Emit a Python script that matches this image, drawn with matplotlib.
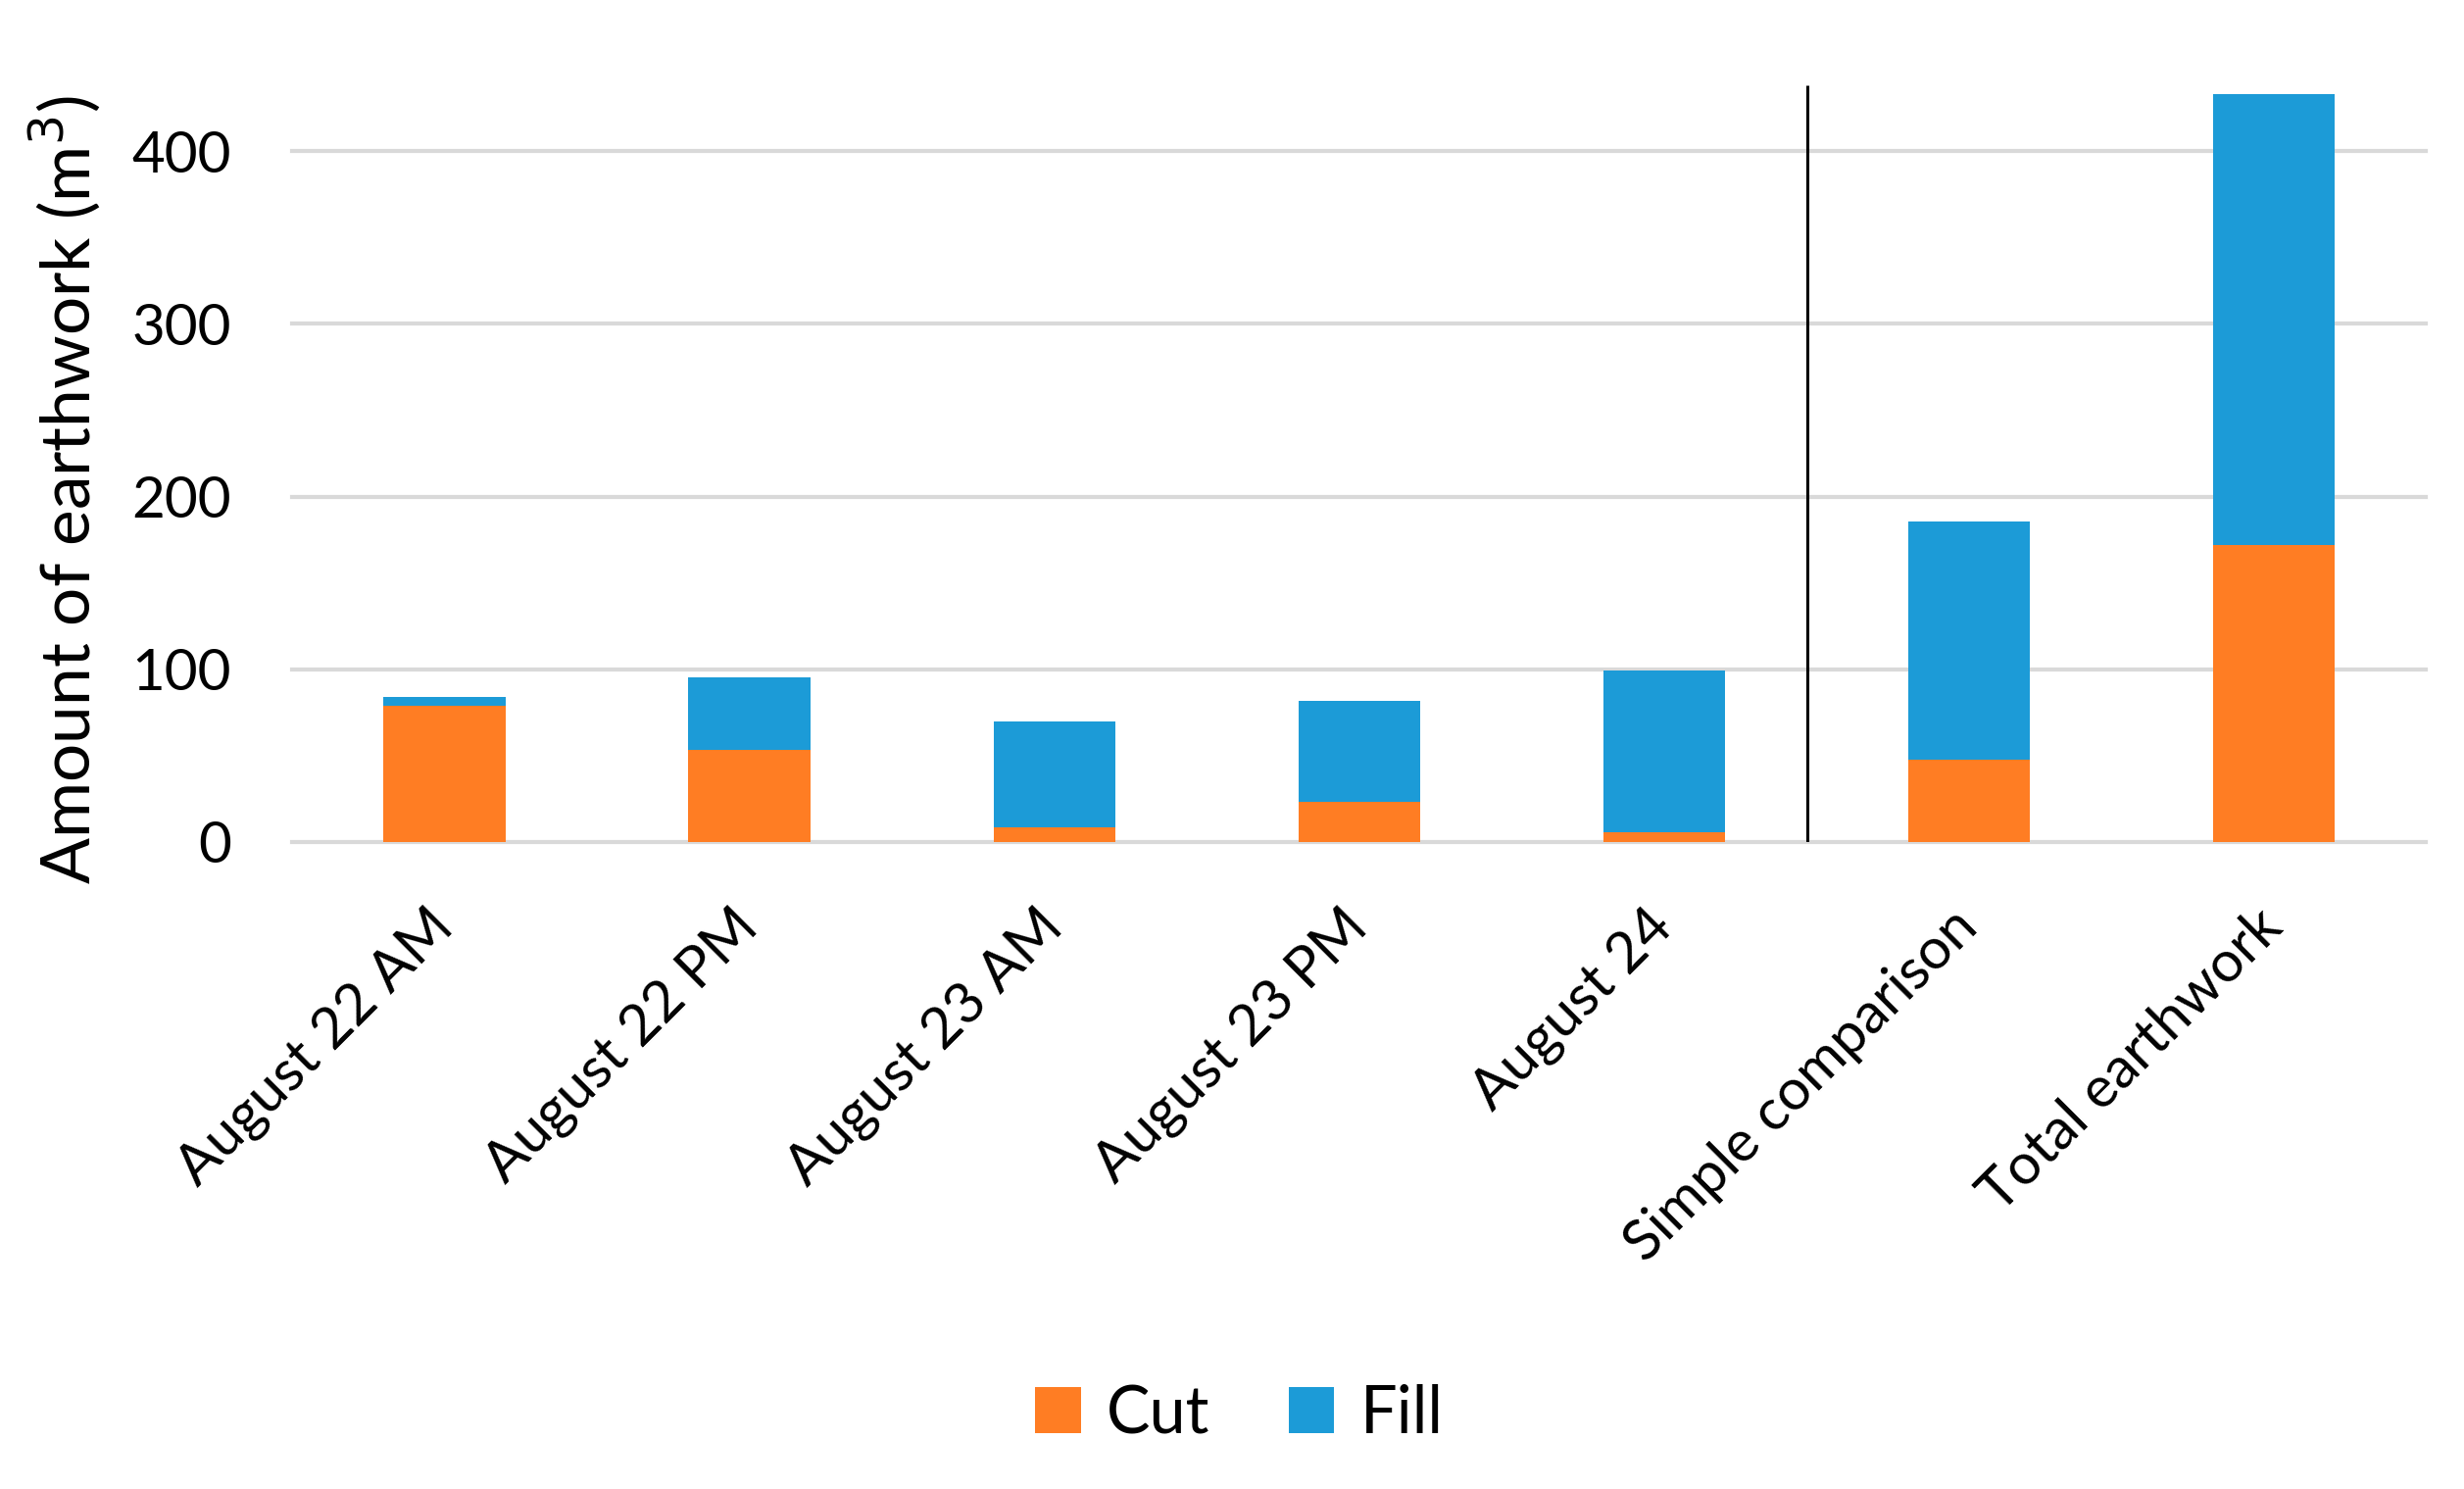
import numpy as np
import matplotlib.pyplot as plt

plt.rcParams['font.family'] = ['Lato', 'DejaVu Sans']

categories = ['August 22 AM', 'August 22 PM', 'August 23 AM', 'August 23 PM',
              'August 24', 'Simple comparison', 'Total earthwork']
cut = [79, 53.6, 8.6, 23.3, 5.5, 47.7, 171.7]
fill = [5, 42, 61, 58.4, 94, 138, 261]
yticks = [0, 100, 200, 300, 400]
divider_x = 4.47
divider_top = 438

fig = plt.figure(figsize=(25.14, 15.19), dpi=100)
ax = fig.add_axes([0.1186, 0.4345, 0.866, 0.5105])

x = np.arange(len(categories))
ax.bar(x, cut, width=0.4, color='#FF7D23', label='Cut', zorder=3)
ax.bar(x, fill, width=0.4, bottom=cut, color='#1C9BD7', label='Fill', zorder=3)

# divider between daily values and the summaries
ax.vlines(divider_x, 0, divider_top, color='black', linewidth=2.2, zorder=4)

ax.set_xlim(-0.5, len(categories) - 0.5)
ax.set_ylim(0, 440)
ax.set_yticks(yticks)
ax.yaxis.grid(True, color='#d9d9d9', linewidth=3, zorder=0)
for gl in ax.get_ygridlines():
    gl.set_clip_on(False)
ax.set_axisbelow(True)
for s in ax.spines.values():
    s.set_visible(False)
ax.tick_params(axis='both', length=0, labelsize=42)
ax.tick_params(axis='y', pad=45)
ax.set_xticks(x)
ax.set_xticklabels(categories, rotation=45, ha='right', va='center',
                   rotation_mode='anchor')
ax.tick_params(axis='x', pad=56)
ax.set_ylabel('Amount of earthwork (m$^3$)', fontsize=50)
ax.yaxis.set_label_coords(-0.089, 0.463)

fig.legend(loc='center', bbox_to_anchor=(0.503, 0.05), ncol=2, frameon=False,
           fontsize=48, handlelength=0.7, handleheight=0.7, handletextpad=0.4,
           columnspacing=1.2)

fig.savefig('out.png', dpi=100)
